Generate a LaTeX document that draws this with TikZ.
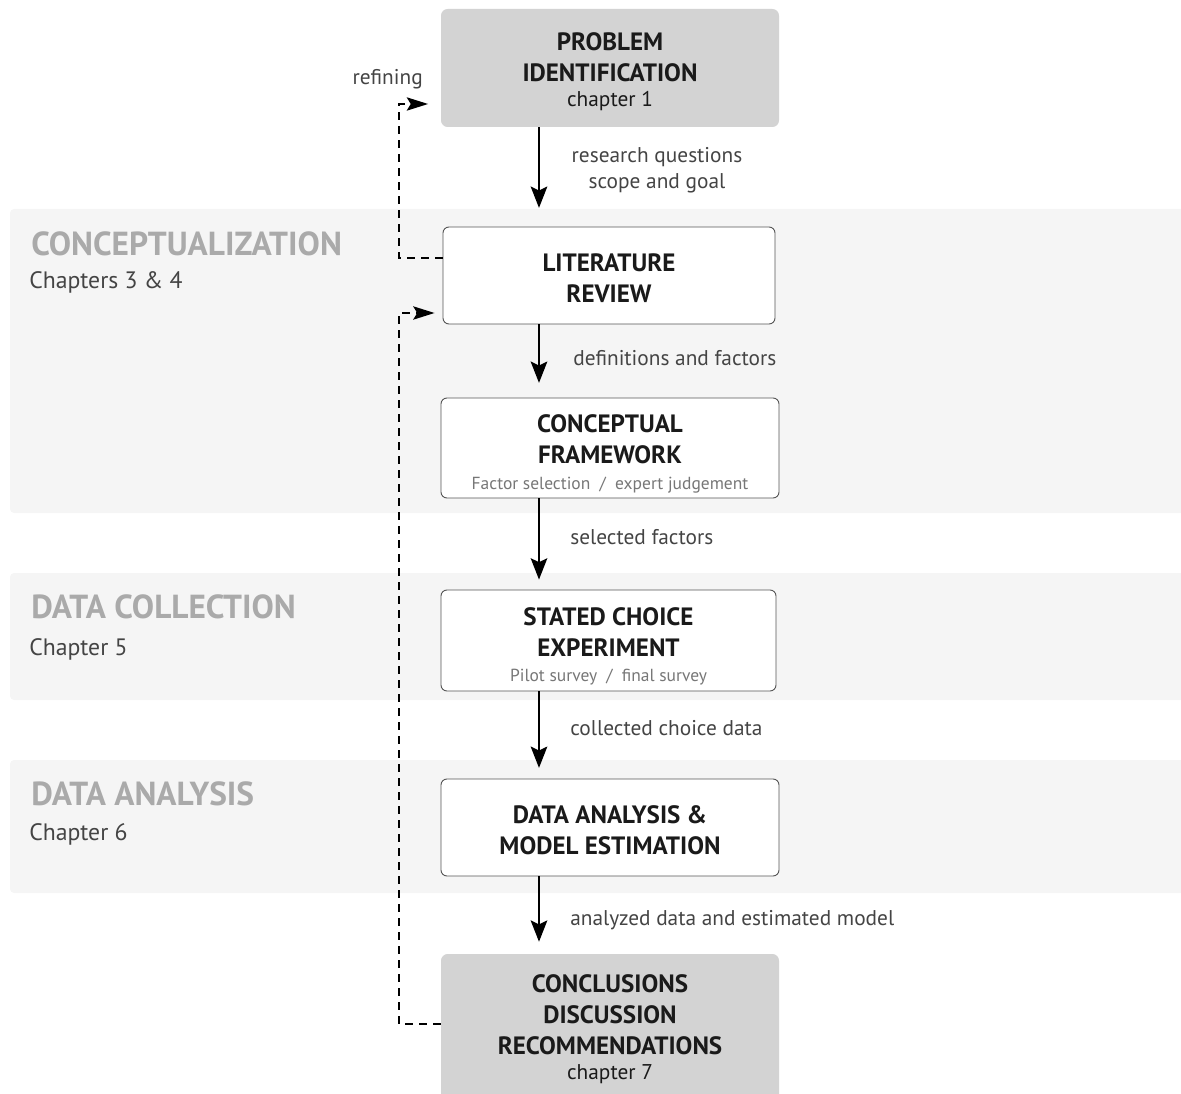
\documentclass[tikz,border=0pt]{standalone}
\usepackage{fontspec}
\setmainfont{PT Sans}
\usetikzlibrary{arrows.meta,calc}
\definecolor{bandfill}{HTML}{F5F5F5}
\definecolor{endfill}{HTML}{D3D3D3}
\definecolor{boxline}{HTML}{555555}
\definecolor{labelgray}{HTML}{444444}
\definecolor{bandtitle}{HTML}{AAAAAA}
\definecolor{subgray}{HTML}{777777}
\definecolor{titleblack}{HTML}{1A1A1A}
\newcommand{\ttl}{\fontsize{18.8}{23.2}\selectfont\bfseries}
\newcommand{\subt}[1]{\\[-4pt]{\fontsize{13.1}{15}\selectfont\mdseries\color{subgray}#1}}
\newcommand{\chap}[1]{\\[-4.5pt]{\fontsize{16}{18}\selectfont\mdseries #1}}
% strut on the first line, lowers a centred text block by half its height
\newcommand{\lift}[1]{\rule{0pt}{#1}}
\begin{document}
\begin{tikzpicture}[x=0.75pt,y=-0.75pt,
  band/.style={fill=bandfill,draw=none,rounded corners=3pt},
  stagebox/.style={draw=boxline,line width=0.7pt,fill=white,rounded corners=4.5pt,
    align=center,text=titleblack,font=\ttl,inner sep=0pt},
  endbox/.style={fill=endfill,draw=none,rounded corners=5pt,
    align=center,text=titleblack,font=\ttl,inner sep=0pt},
  flowlabel/.style={text=labelgray,font=\fontsize{16}{19.5}\selectfont,align=center,inner sep=0pt},
  bandname/.style={text=bandtitle,font=\fontsize{25}{28}\selectfont\bfseries,anchor=west,inner sep=0pt},
  bandchap/.style={text=labelgray,font=\fontsize{17.8}{21}\selectfont,anchor=west,inner sep=0pt},
  flow/.style={line width=1.1pt,-{Stealth[length=16pt,width=12.5pt,inset=3pt]}},
  loop/.style={line width=1.2pt,dash pattern=on 6pt off 4.5pt,
    -{Stealth[length=16pt,width=10pt,inset=3pt]}}]
\useasboundingbox (0,0) rectangle (1181,1094);
\clip (0,0) rectangle (1181,1094);

% phase bands
\fill[band] (10,209) rectangle (1195,513);
\fill[band] (10,573) rectangle (1195,700);
\fill[band] (10,760) rectangle (1195,893);

\node[bandname] (n1) at (31,244) {CONCEPTUALIZATION};
\node[bandchap] (c1) at (29,282) {Chapters 3 \& 4};
\node[bandname] (n2) at (31,607) {DATA COLLECTION};
\node[bandchap] (c2) at (29,649) {Chapter 5};
\node[bandname] (n3) at (31,794) {DATA ANALYSIS};
\node[bandchap] (c3) at (29,834) {Chapter 6};

% stages
\node[endbox,minimum width=253.5pt,minimum height=88.5pt] (prob) at (610,68)
  {\lift{19pt}PROBLEM\\IDENTIFICATION\chap{chapter 1}};
\node[stagebox,minimum width=249pt,minimum height=72.75pt] (lit) at (609,275.5)
  {\lift{17.5pt}LITERATURE\\REVIEW};
\node[stagebox,minimum width=253.5pt,minimum height=75pt] (conc) at (610,448)
  {\lift{22pt}CONCEPTUAL\\FRAMEWORK\subt{Factor selection \ / \ expert judgement}};
\node[stagebox,minimum width=251.25pt,minimum height=75.75pt] (sce) at (608.5,640.5)
  {\lift{22pt}STATED CHOICE\\EXPERIMENT\subt{Pilot survey \ / \ final survey}};
\node[stagebox,minimum width=253.5pt,minimum height=72.75pt] (dam) at (610,827.5)
  {\lift{18pt}DATA ANALYSIS \&\\MODEL ESTIMATION};
\node[endbox,minimum width=253.5pt,minimum height=112.5pt] (concl) at (610,1029)
  {CONCLUSIONS\\DISCUSSION\\RECOMMENDATIONS\chap{chapter 7}};

% main flow
\coordinate (ax) at (539,0);
\draw[flow,shorten >=14pt] (prob.south -| ax) -- (lit.north -| ax);
\draw[flow,shorten >=11pt] (lit.south -| ax) -- (conc.north -| ax);
\draw[flow,shorten >=7.5pt] (conc.south -| ax) -- (sce.north -| ax);
\draw[flow,shorten >=8pt] (sce.south -| ax) -- (dam.north -| ax);
\draw[flow,shorten >=9pt] (dam.south -| ax) -- (concl.north -| ax);

\node[flowlabel] (l1) at (657,170) {research questions\\scope and goal};
\node[flowlabel,anchor=west] (l2) at (573,358) {definitions and factors};
\node[flowlabel,anchor=west] (l3) at (570,537) {selected factors};
\node[flowlabel,anchor=west] (l4) at (570,728) {collected choice data};
\node[flowlabel,anchor=west] (l5) at (570,920) {analyzed data and estimated model};

% feedback loops
\coordinate (lx) at (399,0);
\coordinate (r1) at (0,258);
\coordinate (r2) at (0,104);
\coordinate (r3) at (0,1024);
\coordinate (r4) at (0,313);
\draw[loop,shorten >=9.5pt] (lit.west |- r1) -- (lx |- r1) -- (lx |- r2) -- (prob.west |- r2);
\draw[loop,shorten >=6pt] (concl.west |- r3) -- (lx |- r3) -- (lx |- r4) -- (lit.west |- r4);
\node[flowlabel,anchor=east] (ref) at (423,79) {refining};
\end{tikzpicture}
\end{document}
